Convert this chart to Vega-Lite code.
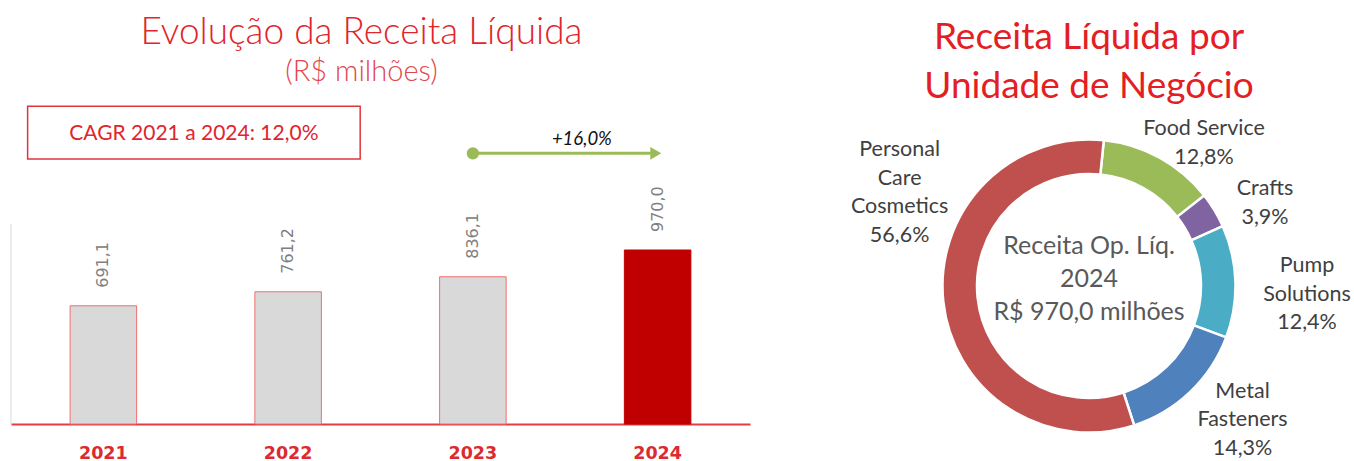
{
  "$schema": "https://vega.github.io/schema/vega-lite/v6.json",
  "background": "white",
  "padding": {"left": 10, "top": 14, "right": 0, "bottom": 0},
  "spacing": 81,
  "config": {
    "view": {"stroke": null},
    "locale": {"number": {"decimal": ",", "thousands": ".", "grouping": [3], "currency": ["R$ ", ""]}}
  },
  "hconcat": [
    {
      "width": 739,
      "height": 310,
      "title": {
        "text": "Evolução da Receita Líquida",
        "subtitle": "(R$ milhões)",
        "font": "Lato",
        "fontSize": 37,
        "fontWeight": 300,
        "color": "#e0252c",
        "subtitleFont": "Lato",
        "subtitleFontSize": 29,
        "subtitleFontWeight": 300,
        "subtitleColor": "#e2474e",
        "subtitlePadding": 6,
        "anchor": "middle",
        "dx": -19,
        "offset": 17.3
      },
      "layer": [
        {
          "data": {"values": [
            {"year": "2021", "value": 691.1},
            {"year": "2022", "value": 761.2},
            {"year": "2023", "value": 836.1},
            {"year": "2024", "value": 970.0}
          ]},
          "layer": [
            {
              "mark": {"type": "bar", "strokeWidth": 1},
              "encoding": {
                "x": {
                  "field": "year", "type": "ordinal",
                  "scale": {"paddingInner": 0.64, "paddingOuter": 0.32},
                  "axis": {
                    "title": null, "ticks": false, "grid": false, "labelAngle": 0,
                    "domainColor": "#e03c44", "domainWidth": 2,
                    "labelFont": "DejaVu Sans", "labelFontWeight": "bold", "labelFontSize": 17.5,
                    "labelColor": "#dc2a30", "labelPadding": 20
                  }
                },
                "y": {"field": "value", "type": "quantitative", "scale": {"domain": [100, 1650], "nice": false, "zero": false}, "axis": null},
                "y2": {"datum": 100},
                "fill": {"condition": {"test": "datum.year == '2024'", "value": "#c00000"}, "value": "#d9d9d9"},
                "stroke": {"condition": {"test": "datum.year == '2024'", "value": "#c00000"}, "value": "#ef6f6f"}
              }
            },
            {
              "mark": {"type": "text", "angle": 270, "align": "left", "baseline": "middle", "dx": 18, "font": "DejaVu Sans", "fontSize": 16, "color": "#808080"},
              "encoding": {
                "x": {"field": "year", "type": "ordinal"},
                "y": {"field": "value", "type": "quantitative"},
                "text": {"field": "value", "type": "quantitative", "format": ".1f"}
              }
            }
          ]
        },
        {
          "data": {"values": [{"cagr": "CAGR 2021 a 2024: 12,0%", "growth": "+16,0%"}]},
          "layer": [
            {
              "mark": {"type": "rule", "color": "#d9d9d9", "strokeWidth": 1},
              "encoding": {
                "x": {"datum": 2020.5, "type": "quantitative", "scale": {"domain": [2020.5, 2024.5], "nice": false, "zero": false}, "axis": null},
                "y": {"datum": 100},
                "y2": {"datum": 1100}
              }
            },
            {
              "mark": {"type": "rect", "fill": "#ffffff", "stroke": "#e0343b", "strokeWidth": 1.5},
              "encoding": {
                "x": {"datum": 2020.59, "type": "quantitative", "scale": {"domain": [2020.5, 2024.5], "nice": false, "zero": false}, "axis": null},
                "x2": {"datum": 2022.39},
                "y": {"datum": 1425},
                "y2": {"datum": 1688.5}
              }
            },
            {
              "mark": {"type": "text", "font": "Lato", "fontSize": 21, "color": "#e0252c", "align": "center", "baseline": "middle"},
              "encoding": {
                "x": {"datum": 2021.49, "type": "quantitative", "scale": {"domain": [2020.5, 2024.5], "nice": false, "zero": false}, "axis": null},
                "y": {"datum": 1548},
                "text": {"field": "cagr"}
              }
            },
            {
              "mark": {"type": "rule", "color": "#9bbb59", "strokeWidth": 3},
              "encoding": {
                "x": {"datum": 2023, "type": "quantitative", "scale": {"domain": [2020.5, 2024.5], "nice": false, "zero": false}, "axis": null},
                "x2": {"datum": 2023.97},
                "y": {"datum": 1453.5}
              }
            },
            {
              "mark": {"type": "point", "filled": true, "size": 150, "color": "#9bbb59", "opacity": 1},
              "encoding": {
                "x": {"datum": 2023, "type": "quantitative", "scale": {"domain": [2020.5, 2024.5], "nice": false, "zero": false}, "axis": null},
                "y": {"datum": 1453.5}
              }
            },
            {
              "mark": {"type": "point", "shape": "triangle-right", "filled": true, "size": 160, "color": "#9bbb59", "opacity": 1},
              "encoding": {
                "x": {"datum": 2023.99, "type": "quantitative", "scale": {"domain": [2020.5, 2024.5], "nice": false, "zero": false}, "axis": null},
                "y": {"datum": 1453.5}
              }
            },
            {
              "mark": {"type": "text", "font": "Lato", "fontSize": 18.5, "fontStyle": "italic", "color": "#111111", "align": "center", "baseline": "middle"},
              "encoding": {
                "x": {"datum": 2023.59, "type": "quantitative", "scale": {"domain": [2020.5, 2024.5], "nice": false, "zero": false}, "axis": null},
                "y": {"datum": 1525},
                "text": {"field": "growth"}
              }
            }
          ]
        }
      ],
      "resolve": {"scale": {"x": "independent"}, "axis": {"x": "independent"}}
    },
    {
      "width": 516,
      "height": 344,
      "title": {
        "text": ["Receita Líquida por", "Unidade de Negócio"],
        "font": "Lato",
        "fontSize": 37,
        "fontWeight": "normal",
        "color": "#e31e24",
        "lineHeight": 49,
        "anchor": "middle",
        "offset": 7.9
      },
      "data": {"values": [
        {"unit": "Food Service", "pct": 12.8, "ord": 1, "label": ["Food Service", "12,8%"]},
        {"unit": "Crafts", "pct": 3.9, "ord": 2, "label": ["Crafts", "3,9%"]},
        {"unit": "Pump Solutions", "pct": 12.4, "ord": 3, "label": ["Pump", "Solutions", "12,4%"]},
        {"unit": "Metal Fasteners", "pct": 14.3, "ord": 4, "label": ["Metal", "Fasteners", "14,3%"]},
        {"unit": "Personal Care Cosmetics", "pct": 56.6, "ord": 5, "label": ["Personal", "Care", "Cosmetics", "56,6%"]}
      ]},
      "layer": [
        {
          "mark": {"type": "arc", "innerRadius": 112, "outerRadius": 146.5, "stroke": "#ffffff", "strokeWidth": 2.5},
          "encoding": {
            "theta": {"field": "pct", "type": "quantitative", "stack": true, "scale": {"range": [0.1012, 6.3844]}},
            "order": {"field": "ord", "type": "quantitative"},
            "color": {
              "field": "unit", "type": "nominal", "legend": null,
              "scale": {
                "domain": ["Food Service", "Crafts", "Pump Solutions", "Metal Fasteners", "Personal Care Cosmetics"],
                "range": ["#9bbb59", "#8064a2", "#4bacc6", "#4f81bd", "#c0504d"]
              }
            }
          }
        },
        {
          "data": {"values": [{"t": ["Receita Op. Líq.", "2024", "R$ 970,0 milhões"]}]},
          "mark": {"type": "text", "font": "Lato", "fontSize": 25, "color": "#595959", "lineHeight": 33, "align": "center", "baseline": "middle", "dy": -40},
          "encoding": {"text": {"field": "t"}}
        },
        {
          "mark": {"type": "text", "radius": 150, "dx": 42.7, "dy": -25.6, "font": "Lato", "fontSize": 21.5, "color": "#404040", "lineHeight": 28.5, "align": "center", "baseline": "middle"},
          "encoding": {
            "theta": {"field": "pct", "type": "quantitative", "stack": true},
            "order": {"field": "ord", "type": "quantitative"},
            "text": {"condition": {"test": "datum.unit == 'Food Service'", "field": "label"}, "value": ""}
          }
        },
        {
          "mark": {"type": "text", "radius": 150, "dx": 47.6, "dy": -19.5, "font": "Lato", "fontSize": 21.5, "color": "#404040", "lineHeight": 28.5, "align": "center", "baseline": "middle"},
          "encoding": {
            "theta": {"field": "pct", "type": "quantitative", "stack": true},
            "order": {"field": "ord", "type": "quantitative"},
            "text": {"condition": {"test": "datum.unit == 'Crafts'", "field": "label"}, "value": ""}
          }
        },
        {
          "mark": {"type": "text", "radius": 150, "dx": 68.1, "dy": -15.3, "font": "Lato", "fontSize": 21.5, "color": "#404040", "lineHeight": 28.5, "align": "center", "baseline": "middle"},
          "encoding": {
            "theta": {"field": "pct", "type": "quantitative", "stack": true},
            "order": {"field": "ord", "type": "quantitative"},
            "text": {"condition": {"test": "datum.unit == 'Pump Solutions'", "field": "label"}, "value": ""}
          }
        },
        {
          "mark": {"type": "text", "radius": 150, "dx": 49.9, "dy": -2.5, "font": "Lato", "fontSize": 21.5, "color": "#404040", "lineHeight": 28.5, "align": "center", "baseline": "middle"},
          "encoding": {
            "theta": {"field": "pct", "type": "quantitative", "stack": true},
            "order": {"field": "ord", "type": "quantitative"},
            "text": {"condition": {"test": "datum.unit == 'Metal Fasteners'", "field": "label"}, "value": ""}
          }
        },
        {
          "mark": {"type": "text", "radius": 0, "dx": -189.4, "dy": -136, "font": "Lato", "fontSize": 21.5, "color": "#404040", "lineHeight": 28.5, "align": "center", "baseline": "middle"},
          "encoding": {
            "theta": {"field": "pct", "type": "quantitative", "stack": true},
            "order": {"field": "ord", "type": "quantitative"},
            "text": {"condition": {"test": "datum.unit == 'Personal Care Cosmetics'", "field": "label"}, "value": ""}
          }
        }
      ]
    }
  ]
}
